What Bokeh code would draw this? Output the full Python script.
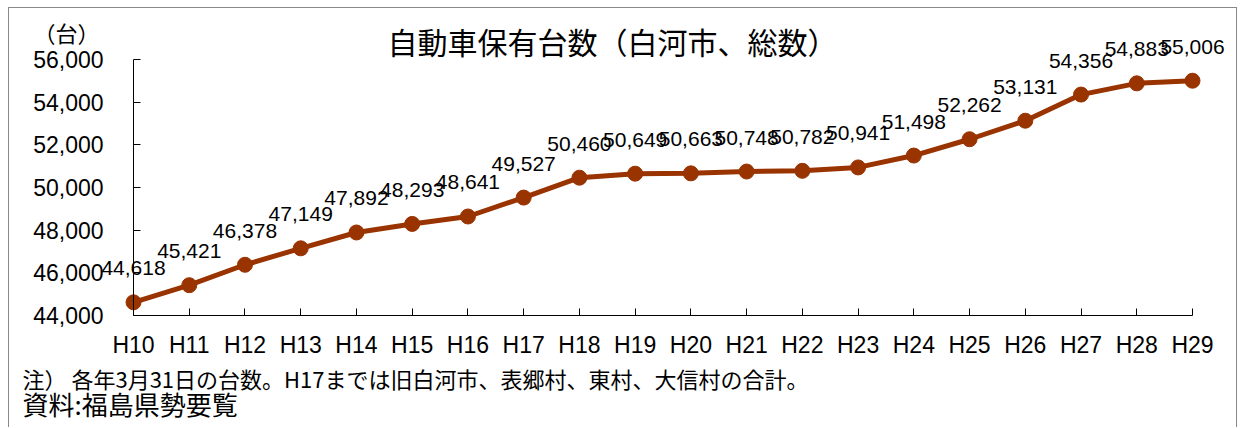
from bokeh.plotting import figure
from bokeh.models import (Range1d, FixedTicker, Label, LabelSet, ColumnDataSource,
                          NumeralTickFormatter)
from bokeh.embed import file_html
from bokeh.resources import INLINE
from bokeh.core.properties import value

years = ["H10", "H11", "H12", "H13", "H14", "H15", "H16", "H17", "H18", "H19",
         "H20", "H21", "H22", "H23", "H24", "H25", "H26", "H27", "H28", "H29"]
counts = [44618, 45421, 46378, 47149, 47892, 48293, 48641, 49527, 50460, 50649,
          50663, 50748, 50782, 50941, 51498, 52262, 53131, 54356, 54883, 55006]
y_ticks = [44000, 46000, 48000, 50000, 52000, 54000, 56000]
title_text = "自動車保有台数（白河市、総数）"
unit_text = "（台）"
note_text = "注） 各年3月31日の台数。H17までは旧白河市、表郷村、東村、大信村の合計。"
source_text = "資料:福島県勢要覧"

JP = "Noto Sans CJK JP"
NUM = "Liberation Sans"
COLOR = "#993300"

xs = list(range(len(years)))
src = ColumnDataSource(dict(x=xs, y=counts, label=[f"{v:,}" for v in counts]))

# layout: the frame fills the whole canvas, axes are placed at fixed locations
p = figure(width=1229, height=420, output_backend="svg", toolbar_location=None,
           x_range=Range1d(-2.225, 19.825),
           y_range=Range1d(38703, 58391),
           min_border=0)
p.styles = {"margin-left": "8px", "margin-top": "7px",
            "border-top": "1px solid #888888", "border-left": "1px solid #888888",
            "border-right": "1px solid #888888"}
p.title.visible = False
p.xgrid.visible = False
p.ygrid.visible = False
p.outline_line_color = None
p.background_fill_color = "white"
p.border_fill_color = "white"

xa = p.xaxis[0]
xa.ticker = FixedTicker(ticks=xs)
xa.major_label_overrides = {i: y for i, y in enumerate(years)}
xa.bounds = (0, len(years) - 1)
xa.fixed_location = y_ticks[0]
xa.major_tick_in = 7
xa.major_tick_out = 0
xa.minor_tick_line_color = None
xa.axis_line_color = "black"
xa.major_tick_line_color = "black"
xa.major_label_text_font = NUM
xa.major_label_text_font_size = "23px"
xa.major_label_text_color = "black"
xa.major_label_standoff = 16

ya = p.yaxis[0]
ya.ticker = FixedTicker(ticks=y_ticks)
ya.formatter = NumeralTickFormatter(format="0,0")
ya.bounds = (y_ticks[0], y_ticks[-1])
ya.fixed_location = 0
ya.major_tick_in = 7
ya.major_tick_out = 0
ya.minor_tick_line_color = None
ya.axis_line_color = "black"
ya.major_tick_line_color = "black"
ya.major_label_text_font = NUM
ya.major_label_text_font_size = "23px"
ya.major_label_text_color = "black"
ya.major_label_standoff = 30

p.line("x", "y", source=src, line_color=COLOR, line_width=5)
p.scatter("x", "y", source=src, size=15, fill_color=COLOR, line_color=COLOR)

labels = LabelSet(x="x", y="y", text="label", source=src, text_align="center",
                  text_baseline="alphabetic", y_offset=27,
                  text_font=value(NUM), text_font_size=value("21px"),
                  text_color="black")
p.add_layout(labels)

p.add_layout(Label(x=603, y=388, x_units="screen", y_units="screen", text=title_text,
                   text_font=JP, text_font_size="30px", text_align="center",
                   text_baseline="middle", text_color="black"))
p.add_layout(Label(x=57, y=397, x_units="screen", y_units="screen", text=unit_text,
                   text_font=JP, text_font_size="22px", text_align="center",
                   text_baseline="middle", text_color="black"))
p.add_layout(Label(x=13, y=51, x_units="screen", y_units="screen", text=note_text,
                   text_font=JP, text_font_size="22px", text_align="left",
                   text_baseline="middle", text_color="black"))
p.add_layout(Label(x=13, y=25, x_units="screen", y_units="screen", text=source_text,
                   text_font=JP, text_font_size="26px", text_align="left",
                   text_baseline="middle", text_color="black"))

open("out.html", "w").write(file_html(p, INLINE))
